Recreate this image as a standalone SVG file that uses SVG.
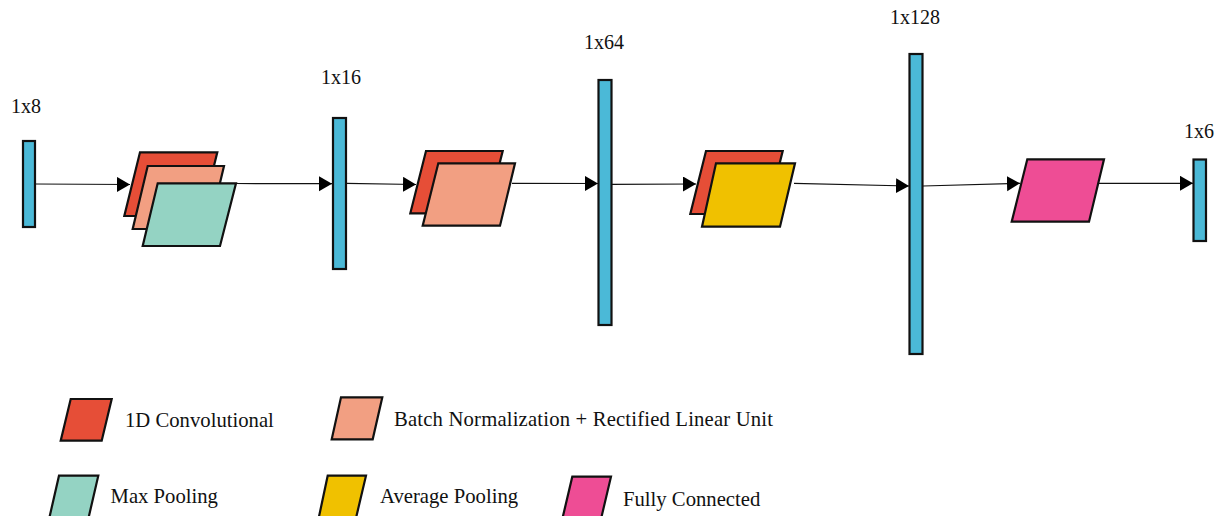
<svg xmlns="http://www.w3.org/2000/svg" width="1219" height="516" viewBox="0 0 1219 516">
  <style>
    .bar { fill: #4bb9d7; stroke: #111; stroke-width: 2.2; }
    .blk { stroke: #111; stroke-width: 2.2; stroke-linejoin: miter; }
    .conv { fill: #e64e37; }
    .bn { fill: #f29f82; }
    .maxp { fill: #94d3c3; }
    .avgp { fill: #f0c100; }
    .fc { fill: #ee4d95; }
    .lbl { font-family: "Liberation Serif", "Times New Roman", serif; font-size: 20px; fill: #111; }
    .leg { font-family: "Liberation Serif", "Times New Roman", serif; font-size: 20.7px; fill: #111; }
    .edge { stroke: #111; stroke-width: 1.2; fill: none; marker-end: url(#arrow); }
  </style>
  <defs>
    <marker id="arrow" markerUnits="userSpaceOnUse" markerWidth="14" markerHeight="16" refX="13" refY="7.5" orient="auto">
      <path d="M0,0 L13,7.5 L0,15 Z" fill="#000"/>
    </marker>
  </defs>

  <rect width="1219" height="516" fill="#fff"/>

  <!-- connectors -->
  <g id="connectors">
    <line class="edge" x1="35" y1="184" x2="130" y2="184.5"/>
    <line class="edge" x1="236" y1="183.5" x2="332" y2="183.7"/>
    <line class="edge" x1="346" y1="183.3" x2="416" y2="184.5"/>
    <line class="edge" x1="512" y1="183.3" x2="598" y2="183.5"/>
    <line class="edge" x1="611" y1="184.3" x2="696" y2="184"/>
    <line class="edge" x1="794" y1="183.3" x2="909" y2="186"/>
    <line class="edge" x1="923" y1="186" x2="1020" y2="183.3"/>
    <line class="edge" x1="1099" y1="183.3" x2="1193" y2="183.3"/>
  </g>

  <!-- feature vectors -->
  <g id="vec-1x8">
    <rect class="bar" x="23" y="141" width="12" height="86"/>
    <text class="lbl" x="11" y="113">1x8</text>
  </g>
  <g id="vec-1x16">
    <rect class="bar" x="333" y="118" width="13" height="151"/>
    <text class="lbl" x="321" y="84">1x16</text>
  </g>
  <g id="vec-1x64">
    <rect class="bar" x="598.5" y="80" width="13" height="245"/>
    <text class="lbl" x="584" y="49">1x64</text>
  </g>
  <g id="vec-1x128">
    <rect class="bar" x="909.5" y="54" width="13" height="300"/>
    <text class="lbl" x="890" y="24">1x128</text>
  </g>
  <g id="vec-1x6">
    <rect class="bar" x="1193.5" y="159.5" width="12.5" height="81.5"/>
    <text class="lbl" x="1184" y="138">1x6</text>
  </g>

  <!-- block 1: conv + bn/relu + max pooling -->
  <g id="block-1">
    <polygon class="blk conv" points="140,152.3 217.3,152.3 201.6,216 124.3,216"/>
    <polygon class="blk bn" points="147.7,166 224,166 209,229 132.7,229"/>
    <polygon class="blk maxp" points="157.7,183.3 236,183.3 220,246 142.7,246"/>
  </g>

  <!-- block 2: conv + bn/relu -->
  <g id="block-2">
    <polygon class="blk conv" points="426,151 502.7,151 487,213.3 410.3,213.3"/>
    <polygon class="blk bn" points="438.3,163.3 515,163.3 500,225.7 422.7,225.7"/>
  </g>

  <!-- block 3: conv + average pooling -->
  <g id="block-3">
    <polygon class="blk conv" points="706,151 782.7,151 767,214 690.3,214"/>
    <polygon class="blk avgp" points="716,163.3 795,163.3 780,226.7 702,226.7"/>
  </g>

  <!-- block 4: fully connected -->
  <g id="block-4">
    <polygon class="blk fc" points="1027.3,159.3 1104,159.3 1089,221.7 1011.7,221.7"/>
  </g>

  <!-- legend -->
  <g id="legend-conv">
    <polygon class="blk conv" points="70.7,399 111.7,399 101.7,440.7 60.7,440.7"/>
    <text class="leg" x="125" y="427">1D Convolutional</text>
  </g>
  <g id="legend-bn">
    <polygon class="blk bn" points="341,397.3 382.3,397.3 372.7,439.3 331.7,439.3"/>
    <text class="leg" x="394" y="425.5" textLength="379" lengthAdjust="spacing">Batch Normalization + Rectified Linear Unit</text>
  </g>
  <g id="legend-maxp">
    <polygon class="blk maxp" points="59,475.7 98.3,475.7 88.5,518 49.3,518"/>
    <text class="leg" x="110.5" y="503">Max Pooling</text>
  </g>
  <g id="legend-avgp">
    <polygon class="blk avgp" points="327.7,475.7 366,475.7 356,518 318.7,518"/>
    <text class="leg" x="380" y="503">Average Pooling</text>
  </g>
  <g id="legend-fc">
    <polygon class="blk fc" points="572.3,476.7 611,476.7 601,519 562.3,519"/>
    <text class="leg" x="623" y="505.5">Fully Connected</text>
  </g>
</svg>
